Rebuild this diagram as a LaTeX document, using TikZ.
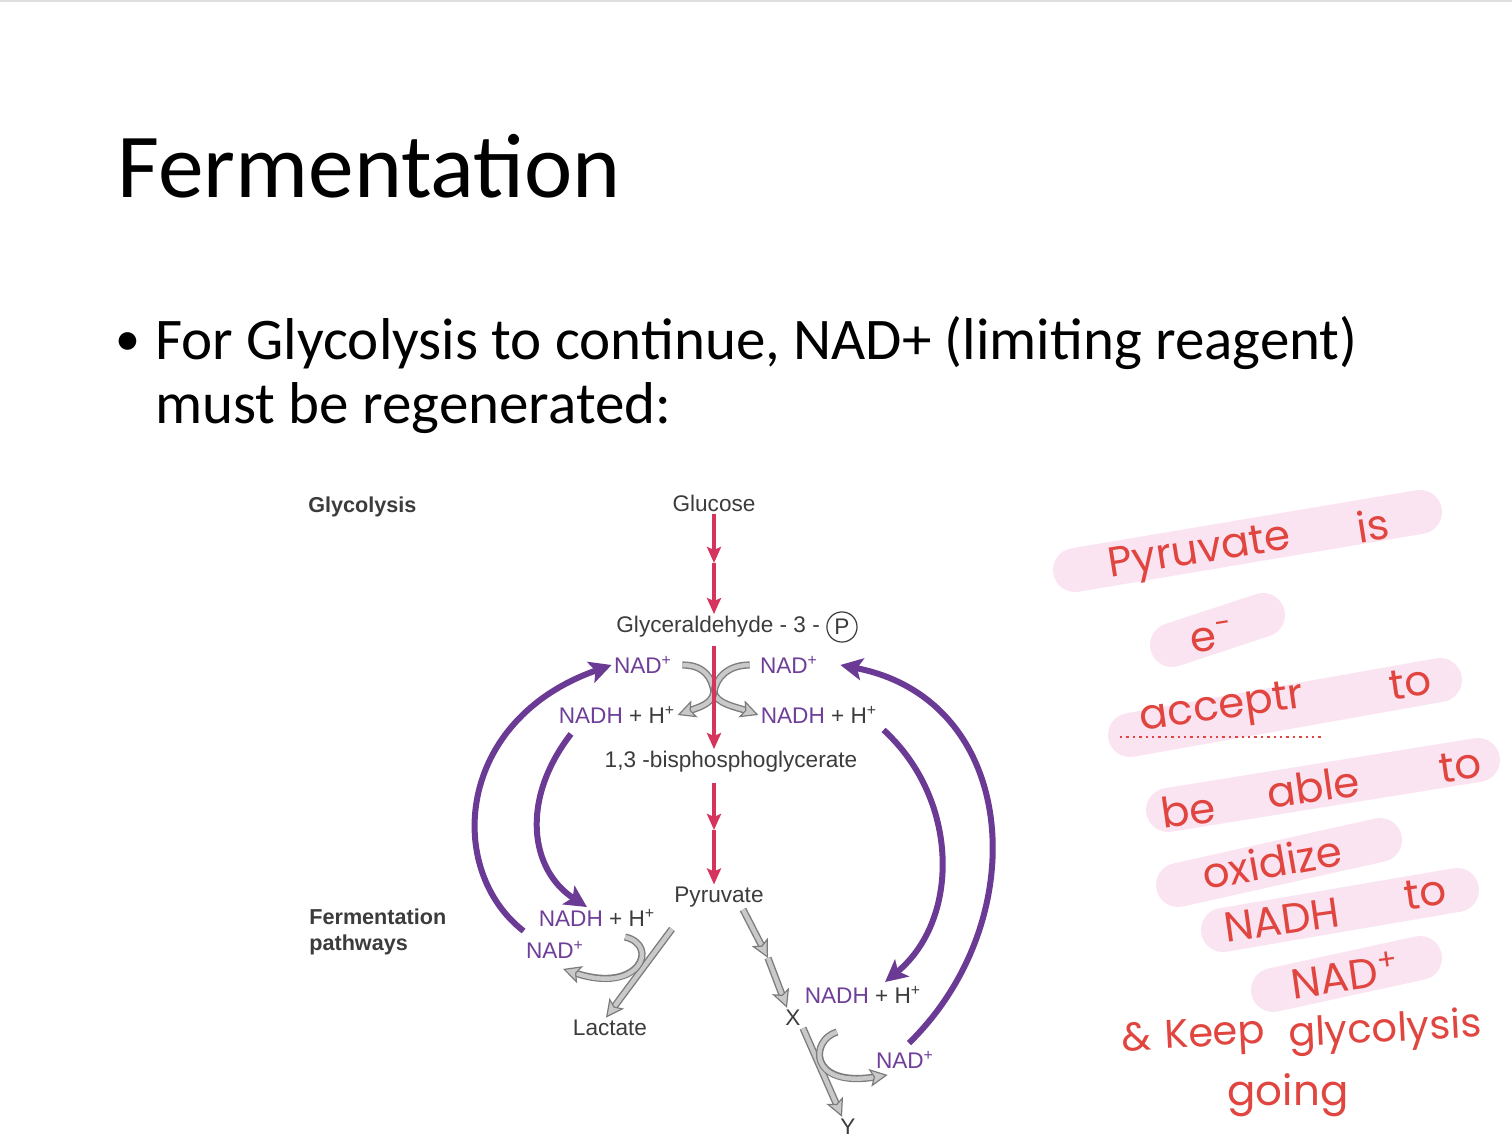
\documentclass[tikz,border=0pt]{standalone}
\usepackage{fontspec}
\setmainfont{Carlito}
\newfontfamily\diagfont{Liberation Sans}
\newfontfamily\handfont{Poppins}
\usepackage{tikz}
\usetikzlibrary{arrows.meta,positioning}
\definecolor{glyred}{HTML}{D5345C}
\definecolor{nadpurple}{HTML}{6E3E98}
\definecolor{arcpurple}{HTML}{6A3A94}
\definecolor{txtgray}{HTML}{3C3C3C}
\definecolor{arrlight}{HTML}{C9C9C9}
\definecolor{arrdark}{HTML}{7C7C7C}
\definecolor{inkred}{HTML}{E1453F}
\definecolor{hilite}{HTML}{FBE4F2}

\begin{document}
\begin{tikzpicture}[x=0.5pt,y=-0.5pt,
    lbl/.style={font=\diagfont\fontsize{11.3}{13}\selectfont, text=txtgray, inner sep=1pt},
    nad/.style={lbl, text=nadpurple},
    head/.style={font=\diagfont\bfseries\fontsize{10.8}{13}\selectfont, text=txtgray, align=left, inner sep=0pt},
    slide/.style={anchor=base west, inner sep=0pt, font=\fontsize{29.5}{34}\selectfont},
    redarr/.style={draw=glyred, line width=2pt, -{Stealth[length=8pt,width=7pt,inset=1.5pt]}},
    purarr/.style={draw=arcpurple, line width=3pt, -{Stealth[length=11pt,width=11pt,inset=2.5pt]}},
    grayarr/.style={draw=arrlight, line width=2.2pt,
      preaction={draw=arrdark, line width=3.6pt, arrows=-, shorten >=6pt},
      -{Stealth[length=9pt,width=9pt,inset=2pt,fill=arrlight,color=arrdark,line width=0.6pt]}},
    hand/.style={font=\handfont\fontsize{21}{24}\selectfont, text=inkred, inner sep=0pt},
    band/.style={draw=hilite, line width=22pt, line cap=round}]
  \fill[white] (0,0) rectangle (1512,1138);
  \useasboundingbox (0,0) rectangle (1512,1138);
  \draw[gray!25, line width=1pt] (0,1) -- (1512,1);

  % slide text
  \node[anchor=base west, inner sep=0pt, font=\fontsize{45.7}{54}\selectfont] (title) at (117,198) {Fermentation};
  \node[slide, font=\fontsize{25}{30}\selectfont] (dot) at (115,356) {•};
  \node[slide] (line1) at (155,360) {For Glycolysis to continue, NAD+ (limiting reagent)};
  \node[slide] (line2) at (155,424) {must be regenerated:};

  % pathway labels
  \node[head, anchor=west] (glyhead) at (308,507) {Glycolysis};
  \node[head, anchor=north west] (fermhead) at (309,908) {Fermentation\\pathways};
  \node[lbl] (glucose) at (714,503) {Glucose};
  \node[lbl, anchor=west] (g3p) at (614,627) {Glyceraldehyde - 3 -};
  \node[lbl, circle, draw=txtgray, line width=0.6pt, inner sep=1.5pt, right=2pt of g3p] (phos) {P};
  \node[lbl] (bpg) at (731,762) {1,3 -bisphosphoglycerate};
  \node[lbl] (pyr) at (719,897) {Pyruvate};
  \node[nad] (lnad) at (643,665) {NAD\textsuperscript{+}};
  \node[nad] (rnad) at (789,665) {NAD\textsuperscript{+}};
  \node[lbl] (lnadh) at (617,715) {\textcolor{nadpurple}{NADH} + H\textsuperscript{+}};
  \node[lbl] (rnadh) at (819,715) {\textcolor{nadpurple}{NADH} + H\textsuperscript{+}};
  \node[lbl] (fnadh) at (597,918) {\textcolor{nadpurple}{NADH} + H\textsuperscript{+}};
  \node[nad] (fnad) at (555,950) {NAD\textsuperscript{+}};
  \node[lbl] (lac) at (610,1028) {Lactate};
  \node[lbl] (xnadh) at (863,995) {\textcolor{nadpurple}{NADH} + H\textsuperscript{+}};
  \node[lbl] (xmol) at (793,1018) {X};
  \node[nad] (xnad) at (905,1060) {NAD\textsuperscript{+}};
  \node[lbl] (ymol) at (848,1127) {Y};
  \coordinate (gmid) at (714,563);
  \coordinate (bmid) at (714,830);
  \coordinate (gx) at (714,692);
  \coordinate (pmid) at (768,958);
  \coordinate (lhook) at (625,937);
  \coordinate (xhook) at (837,1032);

  % gray arrows
  \draw[grayarr] ([xshift=4pt]lnad.east) .. controls +(22,0) and +(-2,-14) .. (gx)
    .. controls +(2,12) and +(-22,-8) .. (rnadh.west);
  \draw[grayarr] ([xshift=-4pt]rnad.west) .. controls +(-22,0) and +(2,-14) .. (gx)
    .. controls +(-2,12) and +(22,-8) .. (lnadh.east);
  \draw[grayarr] (672,929) -- ([xshift=-2pt]lac.north);
  \draw[grayarr] (lhook) .. controls (660,945) and (640,995) .. ([xshift=4pt,yshift=-4pt]fnad.south);
  \draw[grayarr] ([xshift=12pt]pyr.south) -- (pmid);
  \draw[grayarr] (pmid) -- ([xshift=-3pt]xmol.north);
  \draw[grayarr] ([xshift=5pt]xmol.south) -- ([xshift=-3pt]ymol.north);
  \draw[grayarr] (xhook) .. controls (810,1040) and (808,1088) .. ([xshift=7pt,yshift=-2pt]xnad.south west);

  % red arrows
  \draw[redarr] (glucose.south) -- (gmid);
  \draw[redarr] (gmid) -- (g3p.north -| gmid);
  \draw[redarr] ([yshift=-3pt]g3p.south -| gmid) -- (bpg.north -| gmid);
  \draw[redarr] ([yshift=-4pt]bpg.south -| bmid) -- (bmid);
  \draw[redarr] (bmid) -- (pyr.north -| bmid);

  % purple arrows
  \draw[purarr] ([yshift=4pt]fnad.north west) .. controls (445,870) and (455,720) .. (lnad.west);
  \draw[purarr] ([xshift=-23pt,yshift=-4pt]lnadh.south) .. controls (520,800) and (530,870) .. ([xshift=-5pt]fnadh.north);
  \draw[purarr] ([xshift=2pt,yshift=-2pt]rnadh.south east) .. controls (960,800) and (960,920) .. ([xshift=11pt,yshift=1pt]xnadh.north);
  \draw[purarr] ([xshift=2pt,yshift=3pt]xnad.north) .. controls (1035,920) and (1020,700) .. ([xshift=10pt]rnad.east);

  % handwritten note
  \draw[band] (1075,570) -- (1420,512);
  \draw[band] (1172,645) -- (1263,615);
  \draw[band] (1130,735) -- (1440,680);
  \draw[band] (1168,810) -- (1478,760);
  \draw[band] (1178,885) -- (1380,840);
  \draw[band] (1223,930) -- (1457,890);
  \draw[band] (1273,990) -- (1420,958);
  \node[hand, rotate=9] (note1a) at (1200,554) {Pyruvate};
  \node[hand, rotate=9] (note1b) at (1373,525) {is};
  \node[hand, rotate=9] (note2) at (1212,637) {e\textsuperscript{-}};
  \node[hand, rotate=8] (note3a) at (1222,710) {acceptr};
  \node[hand, rotate=8] (note3b) at (1410,683) {to};
  \node[hand, rotate=8] (note4a) at (1188,810) {be};
  \node[hand, rotate=8] (note4b) at (1313,787) {able};
  \node[hand, rotate=8] (note4c) at (1460,766) {to};
  \node[hand, rotate=10] (note5) at (1272,862) {oxidize};
  \node[hand, rotate=8] (note6a) at (1282,920) {NADH};
  \node[hand, rotate=8] (note6b) at (1425,893) {to};
  \node[hand, rotate=8] (note7) at (1345,975) {NAD\textsuperscript{+}};
  \node[hand, rotate=3, font=\handfont\fontsize{20}{22}\selectfont] (note8a) at (1137,1037) {\&};
  \node[hand, rotate=3, font=\handfont\fontsize{20}{22}\selectfont] (note8b) at (1215,1037) {Keep};
  \node[hand, rotate=3, font=\handfont\fontsize{20}{22}\selectfont] (note8c) at (1385,1032) {glycolysis};
  \node[hand] (note9) at (1288,1095) {going};
  \draw[inkred, dotted, line width=1.2pt] (1120,737) -- (1323,737);
\end{tikzpicture}
\end{document}
